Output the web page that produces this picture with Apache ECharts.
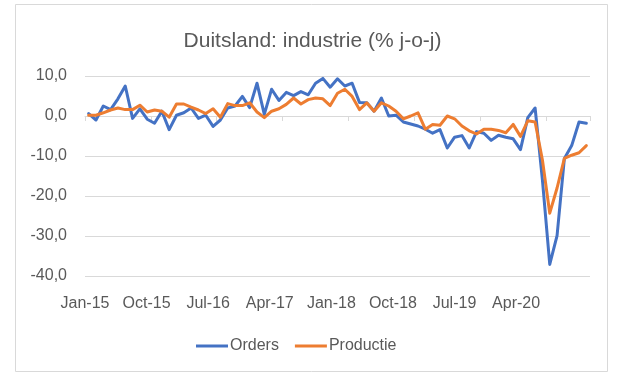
<!DOCTYPE html>
<html>
<head>
<meta charset="utf-8">
<script src="https://cdn.jsdelivr.net/npm/echarts@6/dist/echarts.min.js"></script>
<style>
  html, body { margin: 0; padding: 0; background: #ffffff; }
  #chart { width: 625px; height: 381px; }
</style>
</head>
<body>
<div id="chart"></div>
<script>
var categories = [
  'Jan-15','Feb-15','Mar-15','Apr-15','May-15','Jun-15','Jul-15','Aug-15','Sep-15','Oct-15','Nov-15','Dec-15',
  'Jan-16','Feb-16','Mar-16','Apr-16','May-16','Jun-16','Jul-16','Aug-16','Sep-16','Oct-16','Nov-16','Dec-16',
  'Jan-17','Feb-17','Mar-17','Apr-17','May-17','Jun-17','Jul-17','Aug-17','Sep-17','Oct-17','Nov-17','Dec-17',
  'Jan-18','Feb-18','Mar-18','Apr-18','May-18','Jun-18','Jul-18','Aug-18','Sep-18','Oct-18','Nov-18','Dec-18',
  'Jan-19','Feb-19','Mar-19','Apr-19','May-19','Jun-19','Jul-19','Aug-19','Sep-19','Oct-19','Nov-19','Dec-19',
  'Jan-20','Feb-20','Mar-20','Apr-20','May-20','Jun-20','Jul-20','Aug-20','Sep-20'
];
var orders = [
  0.6, -1.0, 2.5, 1.6, 4.3, 7.5, -0.6, 1.8, -0.8, -1.8, 1.2, -3.4,
  0.2, 0.8, 2.0, -0.6, 0.2, -2.6, -1.0, 2.0, 2.5, 4.9, 2.1, 8.2,
  0.4, 6.7, 3.9, 5.9, 5.1, 6.1, 5.3, 8.2, 9.4, 7.2, 9.3, 7.5,
  8.2, 3.4, 3.3, 1.2, 4.5, 0.0, 0.2, -1.5, -2.0, -2.5, -3.3, -4.3,
  -3.4, -8.0, -5.3, -4.9, -8.0, -3.9, -4.3, -6.1, -4.8, -5.3, -5.7, -8.4,
  -0.4, 2.0, -16.0, -37.1, -29.9, -10.6, -7.4, -1.5, -1.8
];
var productie = [
  0.2, 0.2, 0.8, 1.5, 2.0, 1.6, 1.6, 2.7, 1.0, 1.5, 1.2, -0.3,
  3.0, 3.0, 2.2, 1.5, 0.6, 1.8, -0.3, 3.1, 2.6, 2.6, 3.3, 1.0,
  -0.4, 1.2, 1.8, 2.9, 4.5, 3.0, 4.1, 4.5, 4.3, 2.6, 5.7, 6.7,
  4.9, 1.6, 3.3, 1.2, 3.3, 2.5, 1.2, -0.7, 0.0, 0.8, -3.3, -2.1,
  -2.3, 0.0, -0.7, -2.5, -3.7, -4.5, -3.3, -3.3, -3.6, -4.2, -2.1, -5.1,
  -1.2, -1.5, -11.0, -24.3, -18.0, -10.6, -9.8, -9.2, -7.4
];
var xLabels = ['Jan-15','Oct-15','Jul-16','Apr-17','Jan-18','Oct-18','Jul-19','Apr-20'];
var titleText = 'Duitsland: industrie (% j-o-j)';
var seriesNames = ['Orders', 'Productie'];

var chart = echarts.init(document.getElementById('chart'), null, { renderer: 'canvas' });
var fontFam = '"Liberation Sans", Arial, sans-serif';
var option = {
  backgroundColor: '#ffffff',
  animation: false,
  graphic: [{
    type: 'rect',
    shape: { x: 15.5, y: 4.5, width: 592, height: 367 },
    style: { fill: 'none', stroke: '#d9d9d9', lineWidth: 1 },
    silent: true, z: -10
  }],
  title: {
    text: titleText,
    left: 'center',
    top: 26,
    textStyle: { fontFamily: fontFam, fontSize: 21, fontWeight: 'normal', color: '#595959' }
  },
  legend: {
    data: seriesNames,
    left: 191,
    top: 333,
    icon: 'rect',
    itemWidth: 32,
    itemHeight: 3,
    itemGap: 16,
    textStyle: { fontFamily: fontFam, fontSize: 16, color: '#595959', padding: [0, 0, 0, -3] }
  },
  grid: { left: 85, top: 76, width: 505, height: 200 },
  xAxis: [{
    type: 'category',
    data: categories,
    boundaryGap: true,
    position: 'bottom',
    axisLine: { onZero: true, lineStyle: { color: '#d9d9d9', width: 1 } },
    axisTick: { show: true, interval: 8, length: 5, lineStyle: { color: '#d9d9d9' } },
    axisLabel: { show: false },
    splitLine: { show: false }
  }, {
    type: 'value',
    position: 'bottom',
    min: 0,
    max: 8.2,
    interval: 1,
    axisLine: { show: false, onZero: false },
    axisTick: { show: false },
    splitLine: { show: false },
    axisLabel: {
      margin: 20,
      fontFamily: fontFam, fontSize: 16, color: '#595959',
      showMaxLabel: false,
      formatter: function (v) { var k = Math.round(v); return xLabels[k] !== undefined ? xLabels[k] : ''; }
    }
  }],
  yAxis: {
    type: 'value',
    min: -40,
    max: 10,
    interval: 10,
    axisLine: { show: false },
    axisTick: { show: false },
    splitLine: { lineStyle: { color: '#d9d9d9', width: 1 } },
    axisLabel: {
      margin: 18,
      fontFamily: fontFam, fontSize: 16, color: '#595959',
      formatter: function (v) { return v.toFixed(1).replace('.', ','); }
    }
  },
  series: [{
    name: seriesNames[0],
    type: 'line',
    data: orders,
    xAxisIndex: 0,
    symbol: 'none',
    color: '#4472C4',
    lineStyle: { color: '#4472C4', width: 3, cap: 'round', join: 'round' },
    z: 2
  }, {
    name: seriesNames[1],
    type: 'line',
    data: productie,
    xAxisIndex: 0,
    symbol: 'none',
    color: '#ED7D31',
    lineStyle: { color: '#ED7D31', width: 3, cap: 'round', join: 'round' },
    z: 3
  }]
};
chart.setOption(option);
</script>
</body>
</html>
